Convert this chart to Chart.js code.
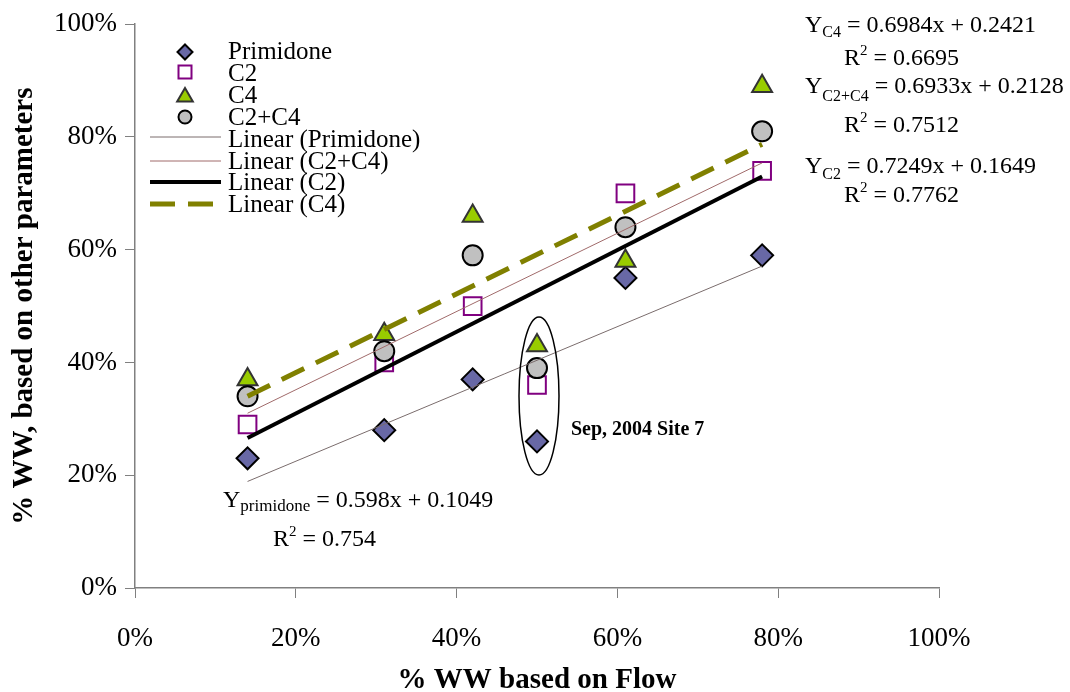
<!DOCTYPE html>
<html>
<head>
<meta charset="utf-8">
<script src="https://cdn.jsdelivr.net/npm/chart.js@4.4.1/dist/chart.umd.min.js"></script>
<style>
	body { margin: 0; background: #fff; }
	canvas { display: block; }
</style>
</head>
<body>
<canvas id="mycanvas" width="1070" height="692"></canvas>
<script>
// values (fractions, shown as %)
var flow = [0.14, 0.31, 0.42, 0.50, 0.61, 0.78];
var primidone = [0.23, 0.28, 0.37, 0.26, 0.55, 0.59];
var c2 = [0.29, 0.40, 0.50, 0.36, 0.70, 0.74];
var c4 = [0.37, 0.45, 0.66, 0.43, 0.58, 0.89];
var c2c4 = [0.34, 0.42, 0.59, 0.39, 0.64, 0.81];

// trend line ends
var trendX = [0.14, 0.78];
var trendPrimidone = [0.189, 0.571];
var trendC2C4 = [0.310, 0.754];
var trendC2 = [0.266, 0.730];
var trendC4 = [0.340, 0.787];

var serif = "'Liberation Serif', 'Times New Roman', serif";

function pts(xs, ys) {
	var out = [];
	for (var i = 0; i < xs.length; i++) {
		out.push({x: xs[i], y: ys[i]});
	}
	return out;
}

function pct(v) {
	return Math.round(v * 100) + '%';
}

function marker(ctx, style, x, y, r, fill, stroke) {
	ctx.save();
	ctx.beginPath();
	if (style == 'rectRot') {
		ctx.moveTo(x, y - r); ctx.lineTo(x + r, y); ctx.lineTo(x, y + r); ctx.lineTo(x - r, y);
		ctx.closePath();
	} else if (style == 'rect') {
		ctx.rect(x - r, y - r, 2 * r, 2 * r);
	} else if (style == 'triangle') {
		ctx.moveTo(x, y - r); ctx.lineTo(x + r * 0.87, y + r * 0.5); ctx.lineTo(x - r * 0.87, y + r * 0.5);
		ctx.closePath();
	} else {
		ctx.arc(x, y, r, 0, Math.PI * 2);
	}
	if (fill) { ctx.fillStyle = fill; ctx.fill(); }
	ctx.lineWidth = 2;
	ctx.strokeStyle = stroke;
	ctx.stroke();
	ctx.restore();
}

// text with sub / superscripts: parts = [text, size, dy]
function rich(ctx, x, y, parts) {
	for (var i = 0; i < parts.length; i++) {
		var p = parts[i];
		ctx.font = p[1] + 'px ' + serif;
		ctx.fillText(p[0], x, y + (p[2] || 0));
		x += ctx.measureText(p[0]).width;
	}
}

var extras = {
	id: 'extras',
	afterDraw: function(chart) {
		var ctx = chart.ctx;
		ctx.save();
		ctx.fillStyle = '#000';
		ctx.textBaseline = 'alphabetic';
		ctx.textAlign = 'left';

		// legend
		marker(ctx, 'rectRot', 185, 52, 7.5, '#6868a6', '#000');
		marker(ctx, 'rect', 185, 72, 6.5, null, '#800080');
		marker(ctx, 'triangle', 185, 97, 9, '#99cc00', '#333');
		marker(ctx, 'circle', 185, 117, 6.5, '#c0c0c0', '#000');

		var lines = [
			[137, '#7a6c6c', 1, []],
			[161, '#a06a6a', 1, []],
			[182, '#000', 4, []],
			[204, '#808000', 5, [25, 13]]
		];
		for (var i = 0; i < lines.length; i++) {
			ctx.beginPath();
			ctx.setLineDash(lines[i][3]);
			ctx.strokeStyle = lines[i][1];
			ctx.lineWidth = lines[i][2];
			ctx.moveTo(150, lines[i][0]);
			ctx.lineTo(221, lines[i][0]);
			ctx.stroke();
		}
		ctx.setLineDash([]);

		var names = ['Primidone', 'C2', 'C4', 'C2+C4', 'Linear (Primidone)', 'Linear (C2+C4)', 'Linear (C2)', 'Linear (C4)'];
		ctx.font = '25px ' + serif;
		for (var j = 0; j < names.length; j++) {
			ctx.fillText(names[j], 228, 59 + j * 21.9);
		}

		// equations
		rich(ctx, 805, 32, [['Y', 24], ['C4', 16, 5], [' = 0.6984x + 0.2421', 24]]);
		rich(ctx, 844, 65, [['R', 24], ['2', 15, -10], [' = 0.6695', 24]]);
		rich(ctx, 805, 93, [['Y', 24], ['C2+C4', 16, 8], [' = 0.6933x + 0.2128', 24]]);
		rich(ctx, 844, 132, [['R', 24], ['2', 15, -10], [' = 0.7512', 24]]);
		rich(ctx, 805, 173, [['Y', 24], ['C2', 16, 6], [' = 0.7249x + 0.1649', 24]]);
		rich(ctx, 844, 202, [['R', 24], ['2', 15, -10], [' = 0.7762', 24]]);
		rich(ctx, 223, 507, [['Y', 24], ['primidone', 17, 4], [' = 0.598x + 0.1049', 24]]);
		rich(ctx, 273, 546, [['R', 24], ['2', 15, -10], [' = 0.754', 24]]);

		// site 7 note, ring round the 50% points
		ctx.beginPath();
		ctx.ellipse(539, 396, 20, 79, 0, 0, Math.PI * 2);
		ctx.strokeStyle = '#000';
		ctx.lineWidth = 1.5;
		ctx.stroke();
		ctx.font = 'bold 20px ' + serif;
		ctx.fillText('Sep, 2004 Site 7', 571, 435);
		ctx.restore();
	}
};

var scatterSet = function(label, data, style, r, bg, border, order) {
	return {
		type: 'scatter',
		label: label,
		data: pts(flow, data),
		pointStyle: style,
		pointRadius: r,
		pointBackgroundColor: bg,
		pointBorderColor: border,
		pointBorderWidth: 2,
		order: order
	};
};

var trendSet = function(label, data, color, width, dash) {
	return {
		type: 'line',
		label: label,
		data: pts(trendX, data),
		borderColor: color,
		borderWidth: width,
		borderDash: dash,
		pointRadius: 0,
		fill: false,
		order: 0
	};
};

var chartdata = {
	datasets: [
		scatterSet('Primidone', primidone, 'rectRot', 11, '#6868a6', '#000', 4),
		scatterSet('C2', c2, 'rect', 12.5, 'rgba(255,255,255,0)', '#800080', 3),
		scatterSet('C4', c4, 'triangle', 11.5, '#99cc00', '#333', 2),
		scatterSet('C2+C4', c2c4, 'circle', 10, '#c0c0c0', '#000', 1),
		trendSet('Linear (Primidone)', trendPrimidone, '#7a6c6c', 1, []),
		trendSet('Linear (C2+C4)', trendC2C4, '#a06a6a', 1, []),
		trendSet('Linear (C2)', trendC2, '#000', 4, []),
		trendSet('Linear (C4)', trendC4, '#808000', 5, [25, 13])
	]
};

function axis(title, isX) {
	return {
		type: 'linear',
		min: 0,
		max: 1,
		ticks: {
			stepSize: 0.2,
			color: '#000',
			padding: isX ? 25 : 8,
			font: { family: serif, size: 27 },
			callback: function(v) { return pct(v); }
		},
		grid: {
			drawOnChartArea: false,
			drawTicks: true,
			tickLength: 10,
			color: '#808080'
		},
		border: { display: true, color: '#808080', width: 1.5 },
		title: {
			display: true,
			text: title,
			color: '#000',
			font: { family: serif, size: 29, weight: 'bold', lineHeight: 1 },
			padding: isX ? { top: 0, bottom: -3 } : { top: 10, bottom: 0 }
		},
		afterFit: function(s) {
			if (isX) s.height = 104; else s.width = 135;
		}
	};
}

var ctx = document.getElementById('mycanvas');

var graph = new Chart(ctx, {
	data: chartdata,
	options: {
		responsive: false,
		animation: false,
		events: [],
		clip: false,
		layout: { padding: { top: 19, right: 131, left: 0, bottom: 0 } },
		plugins: {
			legend: { display: false },
			tooltip: { enabled: false }
		},
		scales: {
			x: axis('% WW based on Flow', true),
			y: axis('% WW, based on other parameters', false)
		}
	},
	plugins: [extras]
});
</script>
</body>
</html>
